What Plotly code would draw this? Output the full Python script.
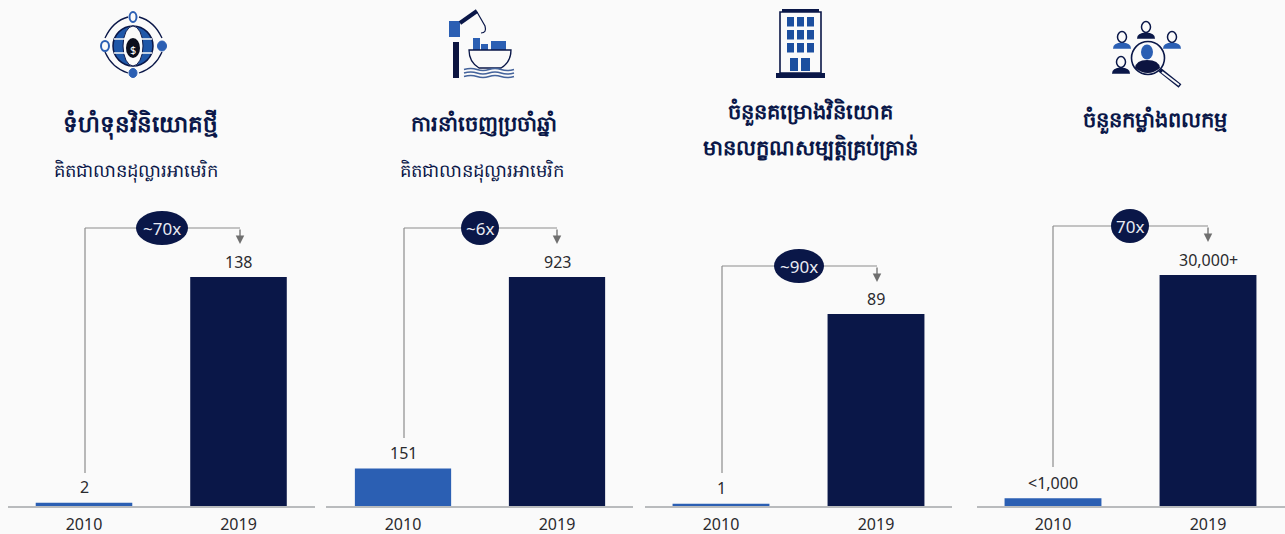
import plotly.graph_objects as go

# ---------- data ----------
years = ["2010", "2019"]
values_capital = [2, 138]
values_exports = [151, 923]
values_projects = [1, 89]
values_workers = [1000, 30000]
labels_capital = ["2", "138"]
labels_exports = ["151", "923"]
labels_projects = ["1", "89"]
labels_workers = ["<1,000", "30,000+"]
multiples = ["~70x", "~6x", "~90x", "70x"]
titles = ["ទំហំទុនវិនិយោគថ្មី", "ការនាំចេញប្រចាំឆ្នាំ",
          "ចំនួនគម្រោងវិនិយោគ<br>មានលក្ខណសម្បត្តិគ្រប់គ្រាន់", "ចំនួនកម្លាំងពលកម្ម"]
subtitle = "គិតជាលានដុល្លារអាមេរិក"

# ---------- layout constants (pixels) ----------
W, H = 1285, 534
BASE = 506
NAVY, BLUE, DARK, GREY = "#0a1748", "#2b5fb3", "#2a2a2e", "#8c8c8c"
BG = "#fafafa"
FONT = "Noto Sans, DejaVu Sans, sans-serif"

panels = [
    dict(vals=values_capital, labs=labels_capital, left=8, right=315, c=(84, 238.5), pxhi=229,
         vx=85, vtop=228, vbot=473, bub=(162, 52), arrow_x=240, tx=140, ty=[123], ts=23, sx=136),
    dict(vals=values_exports, labs=labels_exports, left=326, right=633, c=(403, 557), pxhi=229,
         vx=404, vtop=228, vbot=438, bub=(480, 38), arrow_x=557, tx=484, ty=[123], ts=21, sx=482),
    dict(vals=values_projects, labs=labels_projects, left=645, right=952, c=(721, 876), pxhi=192,
         vx=722, vtop=266, vbot=473, bub=(799, 50), arrow_x=877, tx=810, ty=[112, 147], ts=21),
    dict(vals=values_workers, labs=labels_workers, left=977, right=1285, c=(1053, 1208), pxhi=231,
         vx=1053, vtop=226, vbot=467, bub=(1130, 38), arrow_x=1208, tx=1155, ty=[120], ts=21),
]

fig = go.Figure()
layout = dict(
    width=W, height=H, margin=dict(l=0, r=0, t=0, b=0, pad=0), showlegend=False,
    paper_bgcolor=BG, plot_bgcolor="rgba(0,0,0,0)", bargap=0.375,
    font=dict(family=FONT, color=DARK),
    # overlay axes in page pixels for connectors, titles and icons
    xaxis5=dict(domain=[0, 1], range=[0, W], visible=False, fixedrange=True, anchor="y5"),
    yaxis5=dict(domain=[0, 1], range=[H, 0], visible=False, fixedrange=True, anchor="x5"),
)
shapes, annos = [], []


def line(x0, y0, x1, y1, color=GREY, w=1.2):
    shapes.append(dict(type="line", xref="x5", yref="y5", x0=x0, y0=y0, x1=x1, y1=y1,
                       line=dict(color=color, width=w), layer="above"))


def rect(x0, y0, x1, y1, fill=NAVY, lc=None, w=0):
    shapes.append(dict(type="rect", xref="x5", yref="y5", x0=x0, y0=y0, x1=x1, y1=y1,
                       fillcolor=fill, line=dict(color=lc or fill, width=w), layer="above"))


def circ(cx, cy, rx, ry=None, fill="rgba(0,0,0,0)", lc=NAVY, w=1.5):
    ry = ry or rx
    shapes.append(dict(type="circle", xref="x5", yref="y5", x0=cx - rx, y0=cy - ry, x1=cx + rx, y1=cy + ry,
                       fillcolor=fill, line=dict(color=lc, width=w), layer="above"))


def path(d, fill="rgba(0,0,0,0)", lc=NAVY, w=1.5):
    shapes.append(dict(type="path", xref="x5", yref="y5", path=d, fillcolor=fill,
                       line=dict(color=lc, width=w), layer="above"))


def text(x, y, s, size, color=NAVY, bold=False, xa="center"):
    annos.append(dict(xref="x5", yref="y5", x=x, y=y, text=f"<b>{s}</b>" if bold else s, showarrow=False,
                      font=dict(size=size, color=color, family=FONT), xanchor=xa, yanchor="middle",
                      align="center"))


for i, p in enumerate(panels):
    n = i + 1
    xa, ya = f"xaxis{n if n > 1 else ''}", f"yaxis{n if n > 1 else ''}"
    xr, yr = f"x{n if n > 1 else ''}", f"y{n if n > 1 else ''}"
    step = p["c"][1] - p["c"][0]
    top = max(p["vals"]) * BASE / p["pxhi"]
    fig.add_trace(go.Bar(x=years, y=p["vals"], marker=dict(color=[BLUE, NAVY], line=dict(width=0)),
                         xaxis=xr, yaxis=yr, hoverinfo="x+y"))
    layout[xa] = dict(domain=[p["left"] / W, p["right"] / W], anchor=yr, type="category",
                      range=[(p["left"] - p["c"][0]) / step, (p["right"] - p["c"][0]) / step],
                      showgrid=False, zeroline=False, showline=True, linecolor="#b9bbbd", linewidth=2,
                      ticks="outside", ticklen=3, tickcolor="rgba(0,0,0,0)",
                      tickfont=dict(size=16, color=DARK, family=FONT), fixedrange=True)
    layout[ya] = dict(domain=[(H - BASE) / H, 1], anchor=xr, range=[0, top], visible=False, fixedrange=True)

    for k, (v, lab) in enumerate(zip(p["vals"], p["labs"])):
        annos.append(dict(xref=xr, yref=yr, x=k, y=v, text=lab.replace("<", "&lt;"), showarrow=False,
                          yanchor="middle", yshift=15.5,
                          font=dict(size=16, color=DARK, family=FONT)))

    # connector and multiple bubble
    line(p["vx"], p["vbot"], p["vx"], p["vtop"])
    line(p["vx"], p["vtop"], p["arrow_x"], p["vtop"])
    annos.append(dict(xref="x5", yref="y5", axref="x5", ayref="y5", x=p["arrow_x"], y=p["vtop"] + 16,
                      ax=p["arrow_x"], ay=p["vtop"], text="", showarrow=True, arrowhead=2, arrowsize=1.3,
                      arrowwidth=1.3, arrowcolor="#6f6f6f"))
    bx, bw = p["bub"]
    circ(bx, p["vtop"], bw / 2, 17, fill=NAVY, lc=NAVY, w=0)
    text(bx, p["vtop"], multiples[i], 17, color="#e8eaf2")

    # headings
    for y_, part in zip(p["ty"], titles[i].split("<br>")):
        text(p["tx"], y_, part, p["ts"], bold=True)
    if "sx" in p:
        text(p["sx"], 170, subtitle, 18)

# icon 1: globe with orbiting nodes
path("M 105 38 Q 113 21 128 17 M 139 17 Q 154 21 162 38 M 162 52 Q 155 68 139 73 M 128 73 Q 112 68 105 52", w=1.3)
circ(133, 46, 20, fill="#1f57a8", lc=NAVY, w=1.5)
circ(133, 46, 10, 20, fill=BG, lc=NAVY, w=1)
line(114, 39, 152, 39, BG, 1.5)
line(114, 53, 152, 53, BG, 1.5)
circ(133, 48, 7, 10, fill="#0c0f1e", lc="#0c0f1e", w=0)
text(133, 49, "$", 11, color="#ffffff")
circ(133, 17, 3.5, 5, fill=BG, lc=BLUE, w=2)
circ(133, 73, 4, 4.5, fill=BLUE, lc=BLUE, w=1)
circ(105, 46, 4, 5, fill=BG, lc=BLUE, w=2)
circ(162, 46, 4.5, 5, fill=BLUE, lc=BLUE, w=1)

# icon 2: crane and ship
rect(453, 42, 459, 78, fill="#0c1440")
rect(449, 21, 460, 37, fill=BLUE)
path("M 460 23 L 477 11", lc=NAVY, w=4)
path("M 477 12 L 485 26 Q 487 33 481 33", lc=NAVY, w=1.2)
rect(473, 38, 480, 50, fill=BLUE)
rect(481, 44, 488, 50, fill=BLUE)
rect(491, 41, 506, 50, fill=BLUE)
path("M 469 50 L 511 50 Q 511 62 501 68 L 479 68 Q 469 62 469 50 Z", fill=BG, lc=NAVY, w=1.3)
for y_ in (69.5, 73, 76.5):
    path(f"M 464 {y_} Q 471 {y_-2} 477 {y_} Q 483 {y_+2} 489 {y_} Q 495 {y_-2} 501 {y_} Q 507 {y_+2} 514 {y_}",
         lc="#44639b", w=1.6)

# icon 3: office building
rect(780, 12, 821, 73, fill=BG, lc=NAVY, w=1.6)
rect(776, 73, 825, 78, fill=NAVY)
rect(782, 9, 819, 12, fill=NAVY)
for col in (787, 797, 807):
    for row in (17, 30, 43):
        rect(col, row, col + 7, row + 9.5, fill="#1c4f9f")
rect(790, 58, 798, 71, fill="#1c4f9f")
rect(801, 58, 810, 71, fill="#1c4f9f")


# icon 4: people and magnifier
def person(cx, cy, r, body=NAVY):
    circ(cx, cy, r, r * 1.2, fill=BG, lc=NAVY, w=1.5)
    path(f"M {cx-2*r} {cy+2.6*r} Q {cx-2*r} {cy+1.3*r} {cx} {cy+1.3*r} Q {cx+2*r} {cy+1.3*r} {cx+2*r} {cy+2.6*r} Z",
         fill=body, lc=body, w=0)


person(1122, 37, 4.5, BLUE)
person(1146, 27, 4.5, NAVY)
person(1172, 37, 4.5, BLUE)
person(1121, 62, 4.5, NAVY)
line(1160, 70, 1180, 86, NAVY, 4.5)
line(1162, 72, 1179, 85, BG, 2)
circ(1148, 58, 16.5, fill=BG, lc=NAVY, w=1.6)
circ(1147, 52, 6, 7.5, fill=BLUE, lc=NAVY, w=0)
path("M 1135 68 Q 1136 60 1147 60 Q 1159 60 1160 68 Q 1148 78 1135 68 Z", fill="#0c1440", lc="#0c1440", w=0)

layout["shapes"] = shapes
layout["annotations"] = annos
fig.update_layout(**layout)
fig.write_html("out.html", post_script="document.body.style.margin='0';document.body.style.overflow='hidden';",
               config=dict(displayModeBar=False))
